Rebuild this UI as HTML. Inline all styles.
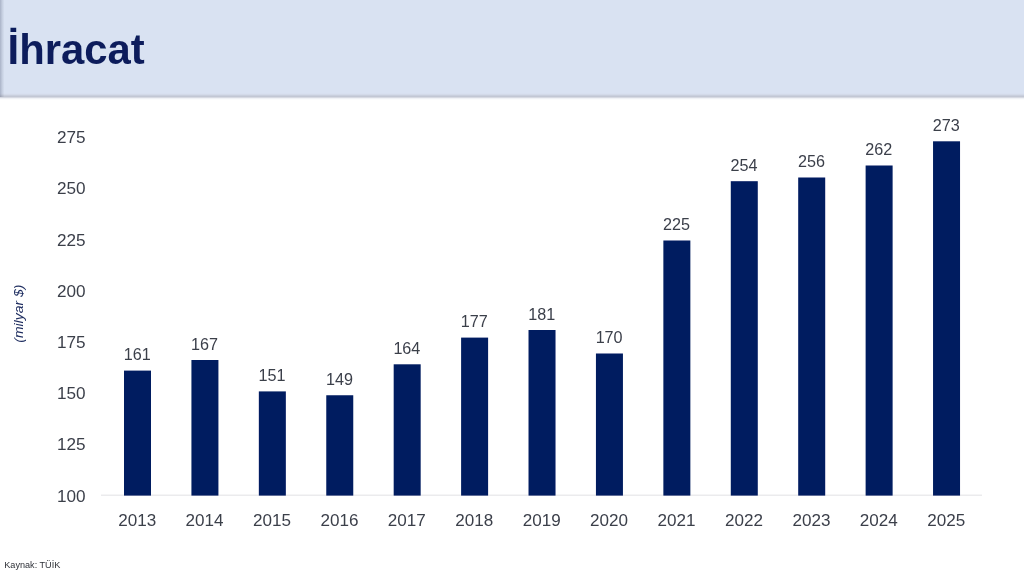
<!DOCTYPE html>
<html><head><meta charset="utf-8"><title>İhracat</title>
<style>
html,body{margin:0;padding:0;background:#fff;}
body{width:1024px;height:576px;overflow:hidden;font-family:"Liberation Sans",sans-serif;}
svg{display:block}
text{font-family:"Liberation Sans",sans-serif;}
</style></head><body>
<svg width="1024" height="576" viewBox="0 0 1024 576">
<defs>
<linearGradient id="hs" x1="0" y1="0" x2="0" y2="1"><stop offset="0" stop-color="#bfc5d3"/><stop offset="0.5" stop-color="#e9ecf2"/><stop offset="1" stop-color="#ffffff"/></linearGradient>
<linearGradient id="ht" x1="0" y1="0" x2="0" y2="1"><stop offset="0" stop-color="#d9e2f2"/><stop offset="0.45" stop-color="#d3daea"/><stop offset="1" stop-color="#bfc5d3"/></linearGradient>
<filter id="b" x="-5%" y="-5%" width="110%" height="110%"><feGaussianBlur stdDeviation="0.45"/></filter>
<linearGradient id="ls" x1="0" y1="0" x2="1" y2="0"><stop offset="0" stop-color="#3c4664" stop-opacity="0.30"/><stop offset="0.5" stop-color="#3c4664" stop-opacity="0.12"/><stop offset="1" stop-color="#3c4664" stop-opacity="0"/></linearGradient>
</defs>
<rect x="0" y="0" width="1024" height="576" fill="#ffffff"/>
<rect x="0" y="0" width="1024" height="96" fill="#d9e2f2"/>
<rect x="0" y="93" width="1024" height="1" fill="#d8e0f0"/>
<rect x="0" y="94" width="1024" height="1" fill="#d3dae9"/>
<rect x="0" y="95" width="1024" height="1" fill="#c9cfdd"/>
<rect x="0" y="96" width="1024" height="1" fill="#c2c7d4"/>
<rect x="0" y="97" width="1024" height="1" fill="#d6d9e2"/>
<rect x="0" y="98" width="1024" height="1" fill="#f0f2f6"/>
<rect x="0" y="99" width="1024" height="1" fill="#fbfcfd"/>
<rect x="0" y="0" width="4.5" height="97" fill="url(#ls)"/>
<g filter="url(#b)">
<text x="7.6" y="64" font-size="42.5" font-weight="700" fill="#0d1f5c" textLength="137" lengthAdjust="spacingAndGlyphs">İhracat</text>

<rect x="101" y="494.6" width="881" height="1.2" fill="#e6e6e9"/>
<text x="85.6" y="501.5" font-size="16.3" text-anchor="end" fill="#3b3f4a" textLength="28.6" lengthAdjust="spacingAndGlyphs">100</text>
<text x="85.6" y="450.3" font-size="16.3" text-anchor="end" fill="#3b3f4a" textLength="28.6" lengthAdjust="spacingAndGlyphs">125</text>
<text x="85.6" y="399.1" font-size="16.3" text-anchor="end" fill="#3b3f4a" textLength="28.6" lengthAdjust="spacingAndGlyphs">150</text>
<text x="85.6" y="347.9" font-size="16.3" text-anchor="end" fill="#3b3f4a" textLength="28.6" lengthAdjust="spacingAndGlyphs">175</text>
<text x="85.6" y="296.7" font-size="16.3" text-anchor="end" fill="#3b3f4a" textLength="28.6" lengthAdjust="spacingAndGlyphs">200</text>
<text x="85.6" y="245.5" font-size="16.3" text-anchor="end" fill="#3b3f4a" textLength="28.6" lengthAdjust="spacingAndGlyphs">225</text>
<text x="85.6" y="194.3" font-size="16.3" text-anchor="end" fill="#3b3f4a" textLength="28.6" lengthAdjust="spacingAndGlyphs">250</text>
<text x="85.6" y="143.1" font-size="16.3" text-anchor="end" fill="#3b3f4a" textLength="28.6" lengthAdjust="spacingAndGlyphs">275</text>
<rect x="124.00" y="370.60" width="27.0" height="125.00" fill="#051c60"/>
<text x="137.20" y="360.1" font-size="16.3" text-anchor="middle" fill="#3b3f4a" textLength="27" lengthAdjust="spacingAndGlyphs">161</text>
<text x="137.20" y="526" font-size="16.3" text-anchor="middle" fill="#3b3f4a" textLength="38" lengthAdjust="spacingAndGlyphs">2013</text>
<rect x="191.42" y="360.00" width="27.0" height="135.60" fill="#051c60"/>
<text x="204.62" y="349.5" font-size="16.3" text-anchor="middle" fill="#3b3f4a" textLength="27" lengthAdjust="spacingAndGlyphs">167</text>
<text x="204.62" y="526" font-size="16.3" text-anchor="middle" fill="#3b3f4a" textLength="38" lengthAdjust="spacingAndGlyphs">2014</text>
<rect x="258.84" y="391.40" width="27.0" height="104.20" fill="#051c60"/>
<text x="272.04" y="380.9" font-size="16.3" text-anchor="middle" fill="#3b3f4a" textLength="27" lengthAdjust="spacingAndGlyphs">151</text>
<text x="272.04" y="526" font-size="16.3" text-anchor="middle" fill="#3b3f4a" textLength="38" lengthAdjust="spacingAndGlyphs">2015</text>
<rect x="326.26" y="395.25" width="27.0" height="100.35" fill="#051c60"/>
<text x="339.46" y="384.8" font-size="16.3" text-anchor="middle" fill="#3b3f4a" textLength="27" lengthAdjust="spacingAndGlyphs">149</text>
<text x="339.46" y="526" font-size="16.3" text-anchor="middle" fill="#3b3f4a" textLength="38" lengthAdjust="spacingAndGlyphs">2016</text>
<rect x="393.68" y="364.30" width="27.0" height="131.30" fill="#051c60"/>
<text x="406.88" y="353.8" font-size="16.3" text-anchor="middle" fill="#3b3f4a" textLength="27" lengthAdjust="spacingAndGlyphs">164</text>
<text x="406.88" y="526" font-size="16.3" text-anchor="middle" fill="#3b3f4a" textLength="38" lengthAdjust="spacingAndGlyphs">2017</text>
<rect x="461.10" y="337.60" width="27.0" height="158.00" fill="#051c60"/>
<text x="474.30" y="327.1" font-size="16.3" text-anchor="middle" fill="#3b3f4a" textLength="27" lengthAdjust="spacingAndGlyphs">177</text>
<text x="474.30" y="526" font-size="16.3" text-anchor="middle" fill="#3b3f4a" textLength="38" lengthAdjust="spacingAndGlyphs">2018</text>
<rect x="528.52" y="330.00" width="27.0" height="165.60" fill="#051c60"/>
<text x="541.72" y="319.5" font-size="16.3" text-anchor="middle" fill="#3b3f4a" textLength="27" lengthAdjust="spacingAndGlyphs">181</text>
<text x="541.72" y="526" font-size="16.3" text-anchor="middle" fill="#3b3f4a" textLength="38" lengthAdjust="spacingAndGlyphs">2019</text>
<rect x="595.94" y="353.50" width="27.0" height="142.10" fill="#051c60"/>
<text x="609.14" y="343.0" font-size="16.3" text-anchor="middle" fill="#3b3f4a" textLength="27" lengthAdjust="spacingAndGlyphs">170</text>
<text x="609.14" y="526" font-size="16.3" text-anchor="middle" fill="#3b3f4a" textLength="38" lengthAdjust="spacingAndGlyphs">2020</text>
<rect x="663.36" y="240.50" width="27.0" height="255.10" fill="#051c60"/>
<text x="676.56" y="230.0" font-size="16.3" text-anchor="middle" fill="#3b3f4a" textLength="27" lengthAdjust="spacingAndGlyphs">225</text>
<text x="676.56" y="526" font-size="16.3" text-anchor="middle" fill="#3b3f4a" textLength="38" lengthAdjust="spacingAndGlyphs">2021</text>
<rect x="730.78" y="181.20" width="27.0" height="314.40" fill="#051c60"/>
<text x="743.98" y="170.7" font-size="16.3" text-anchor="middle" fill="#3b3f4a" textLength="27" lengthAdjust="spacingAndGlyphs">254</text>
<text x="743.98" y="526" font-size="16.3" text-anchor="middle" fill="#3b3f4a" textLength="38" lengthAdjust="spacingAndGlyphs">2022</text>
<rect x="798.20" y="177.50" width="27.0" height="318.10" fill="#051c60"/>
<text x="811.40" y="167.0" font-size="16.3" text-anchor="middle" fill="#3b3f4a" textLength="27" lengthAdjust="spacingAndGlyphs">256</text>
<text x="811.40" y="526" font-size="16.3" text-anchor="middle" fill="#3b3f4a" textLength="38" lengthAdjust="spacingAndGlyphs">2023</text>
<rect x="865.62" y="165.50" width="27.0" height="330.10" fill="#051c60"/>
<text x="878.82" y="155.0" font-size="16.3" text-anchor="middle" fill="#3b3f4a" textLength="27" lengthAdjust="spacingAndGlyphs">262</text>
<text x="878.82" y="526" font-size="16.3" text-anchor="middle" fill="#3b3f4a" textLength="38" lengthAdjust="spacingAndGlyphs">2024</text>
<rect x="933.04" y="141.30" width="27.0" height="354.30" fill="#051c60"/>
<text x="946.24" y="130.8" font-size="16.3" text-anchor="middle" fill="#3b3f4a" textLength="27" lengthAdjust="spacingAndGlyphs">273</text>
<text x="946.24" y="526" font-size="16.3" text-anchor="middle" fill="#3b3f4a" textLength="38" lengthAdjust="spacingAndGlyphs">2025</text>
<text transform="translate(22.8,313.7) rotate(-90)" font-size="12.5" font-style="italic" text-anchor="middle" textLength="58" lengthAdjust="spacingAndGlyphs" fill="#1c2b5e">(milyar $)</text>
<text x="4.3" y="568.3" font-size="9" fill="#2e3138" textLength="56" lengthAdjust="spacingAndGlyphs">Kaynak: TÜİK</text>
</g>
</svg></body></html>
